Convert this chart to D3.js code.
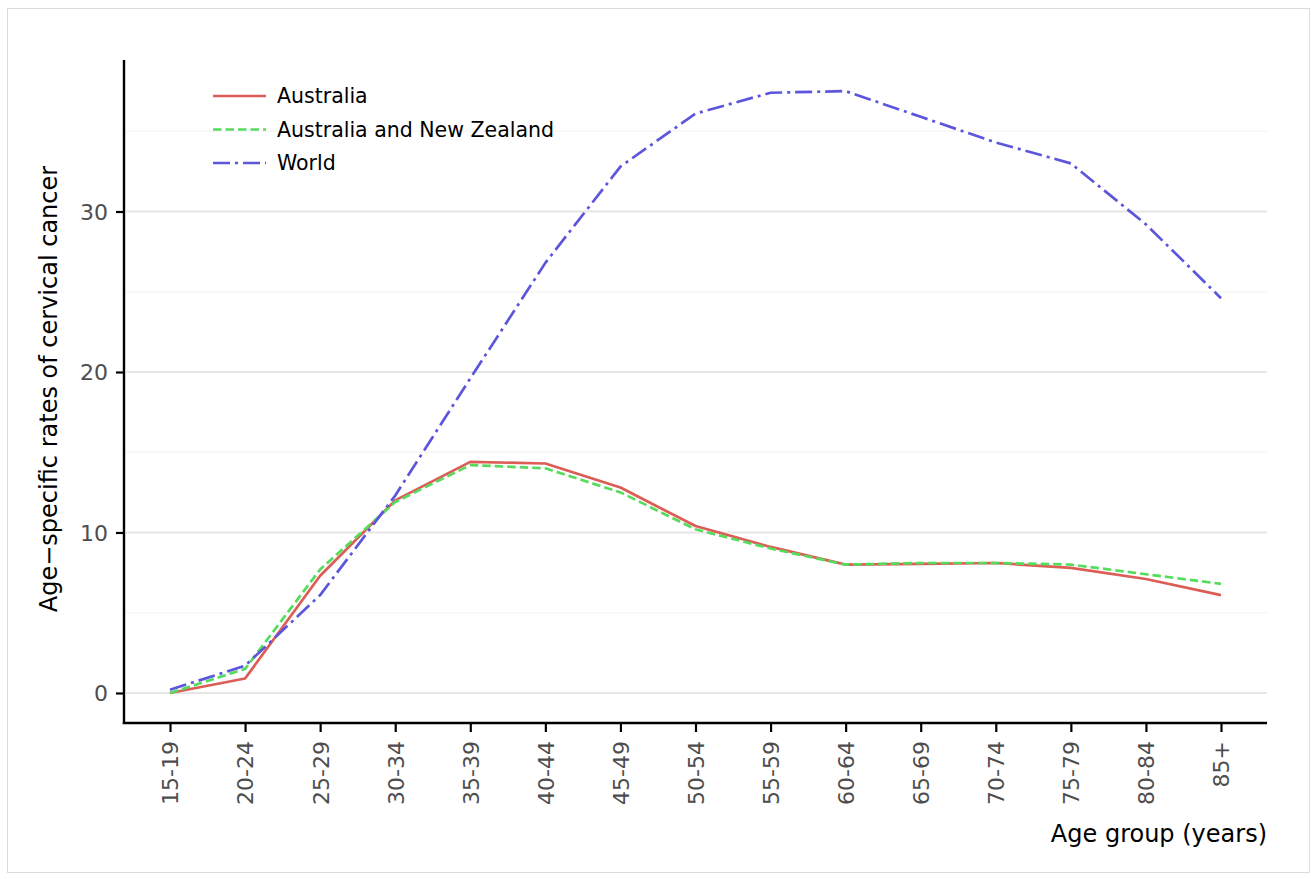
<!DOCTYPE html>
<html><head><meta charset="utf-8">
<script src="https://cdn.jsdelivr.net/npm/d3@7"></script>
<style>body{margin:0;background:#fff;}svg{display:block;font-family:"DejaVu Sans",sans-serif;}</style>
</head><body>
<script>
const categories = ["15-19","20-24","25-29","30-34","35-39","40-44","45-49","50-54","55-59","60-64","65-69","70-74","75-79","80-84","85+"];
const australia = [0.0,0.9,7.3,12.0,14.4,14.3,12.8,10.4,9.1,8.0,8.05,8.1,7.8,7.1,6.1];
const anz = [0.0,1.5,7.7,11.9,14.2,14.0,12.5,10.2,9.0,8.0,8.1,8.1,8.0,7.4,6.8];
const world = [0.2,1.7,6.1,12.3,19.6,26.8,32.8,36.1,37.4,37.5,35.9,34.3,33.0,29.2,24.6];
const seriesNames = ["Australia","Australia and New Zealand","World"];
const yTicks = [0,10,20,30];
const yMinor = [5,15,25,35];

const W=1311,H=879;
const svg=d3.select("body").append("svg").attr("width",W).attr("height",H);
svg.append("rect").attr("x",7.5).attr("y",8.5).attr("width",1302).attr("height",864).attr("fill","#fff").attr("stroke","#dcdcdc").attr("stroke-width",1);

const L=124,R=1267,T=60,B=723;
const x=d3.scalePoint().domain(categories).range([170,1221]);
const y=d3.scaleLinear().domain([-1.87,39.44]).range([B,T]);

// grid
svg.append("g").selectAll("line").data(yMinor).join("line")
 .attr("x1",L+2).attr("x2",R).attr("y1",d=>y(d)).attr("y2",d=>y(d))
 .attr("stroke","#f6f6f6").attr("stroke-width",1.5);
svg.append("g").selectAll("line").data(yTicks).join("line")
 .attr("x1",L+2).attr("x2",R).attr("y1",d=>y(d)).attr("y2",d=>y(d))
 .attr("stroke","#e6e6e6").attr("stroke-width",2);

// axes
const yAxis=svg.append("g").attr("transform",`translate(${L},0)`)
 .call(d3.axisLeft(y).tickValues(yTicks).tickSize(8).tickPadding(8).tickSizeOuter(0));
yAxis.select(".domain").remove();
yAxis.selectAll(".tick line").attr("stroke","#000").attr("stroke-width",2.2);
yAxis.selectAll(".tick text").attr("font-size",22).attr("fill","#4d4d4d").attr("font-family","DejaVu Sans").attr("dy","0.36em");
svg.append("line").attr("x1",L).attr("x2",L).attr("y1",T).attr("y2",B+1).attr("stroke","#000").attr("stroke-width",2.4);

const xAxis=svg.append("g").attr("transform",`translate(0,${B})`)
 .call(d3.axisBottom(x).tickSize(9).tickPadding(6).tickSizeOuter(0));
xAxis.select(".domain").remove();
xAxis.selectAll(".tick line").attr("stroke","#000").attr("stroke-width",2.2);
xAxis.selectAll(".tick text").attr("font-size",22).attr("fill","#4d4d4d").attr("font-family","DejaVu Sans")
 .attr("transform","rotate(-90)").attr("text-anchor","end").attr("x",-18).attr("y",0).attr("dy","0.36em");
svg.append("line").attr("x1",L-1.2).attr("x2",R).attr("y1",B).attr("y2",B).attr("stroke","#000").attr("stroke-width",2.4);

// titles
svg.append("text").attr("x",R).attr("y",842).attr("text-anchor","end").attr("font-size",24).attr("fill","#000").text("Age group (years)");
svg.append("text").attr("transform","translate(57,389) rotate(-90)").attr("text-anchor","middle").attr("font-size",24).attr("fill","#000").text("Age\u2212specific rates of cervical cancer");

// lines
const colors=["#DC5C56","#56DC5C","#5C56DC"];
const dashes=[null,"8.5,4","17,5,3,5"];
const data=[australia,anz,world];
const line=d3.line().x((d,i)=>x(categories[i])).y(d=>y(d));
data.forEach((s,k)=>{
  svg.append("path").datum(s).attr("d",line).attr("fill","none").attr("stroke",colors[k])
   .attr("stroke-width",2.7).attr("stroke-dasharray",dashes[k]).attr("stroke-linejoin","round");
});

// legend
const lg=svg.append("g");
seriesNames.forEach((n,k)=>{
  const yy=96+k*33.5;
  lg.append("line").attr("x1",213).attr("x2",266).attr("y1",yy).attr("y2",yy).attr("stroke",colors[k]).attr("stroke-width",2.7).attr("stroke-dasharray",dashes[k]);
  lg.append("text").attr("x",277).attr("y",yy).attr("dy","0.36em").attr("font-size",20.5).attr("fill","#000").text(n);
});
</script>
</body></html>
